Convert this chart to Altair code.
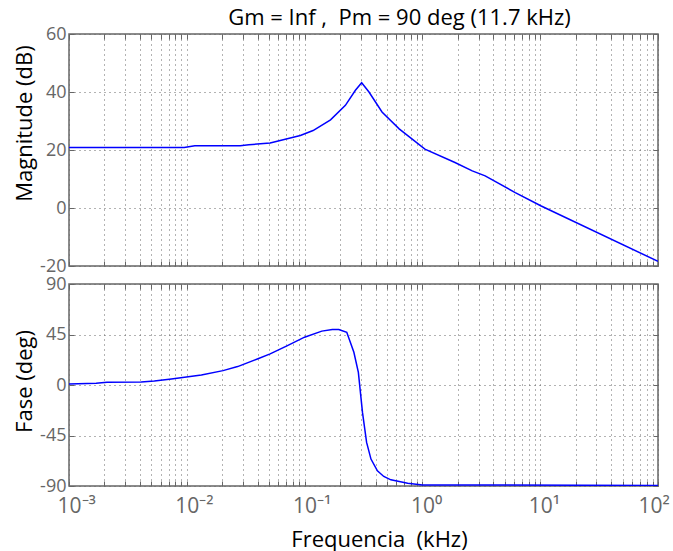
import altair as alt
import pandas as pd

# Magnitude curve (kHz, dB)
freq_mag = [0.001, 0.0095, 0.0117, 0.0284, 0.0336, 0.051, 0.0658, 0.092, 0.118,
            0.166, 0.222, 0.27, 0.305, 0.352, 0.454, 0.635, 1.05, 1.89, 2.65,
            3.41, 6.14, 10.2, 100.0]
mag_db = [20.9, 20.9, 21.5, 21.5, 21.8, 22.4, 23.5, 25.0, 26.7,
          30.4, 35.4, 40.6, 43.2, 40.0, 33.1, 27.3, 20.3, 15.7, 12.8,
          11.1, 5.3, 0.7, -18.4]

# Phase curve (kHz, deg)
freq_ph = [0.001, 0.0017, 0.0021, 0.0041, 0.0053, 0.0074, 0.0133, 0.0203, 0.027,
           0.0397, 0.051, 0.0715, 0.0999, 0.14, 0.172, 0.195, 0.228, 0.262,
           0.286, 0.31, 0.336, 0.366, 0.415, 0.47, 0.54, 0.75, 1.0, 100.0]
phase_deg = [0.9, 1.5, 2.4, 2.7, 3.6, 5.4, 8.9, 12.8, 16.4,
             23.2, 27.7, 35.1, 42.6, 48.0, 49.5, 49.5, 47.0, 29.2,
             11.3, -24.4, -51.2, -66.0, -76.5, -81.5, -84.5, -87.5, -89.0, -89.5]

mag_ticks = [-20, 0, 20, 40, 60]
phase_ticks = [-90, -45, 0, 45, 90]
decades = [0.001, 0.01, 0.1, 1, 10, 100]
decade_labels = ["10⁻³", "10⁻²", "10⁻¹", "10⁰", "10¹", "10²"]
title_text = "Gm = Inf ,\u00a0 Pm = 90 deg (11.7 kHz)"
x_title = "Frequencia\u00a0 (kHz)"

grid_vals = [k * d for d in decades[:-1] for k in range(1, 10)] + [decades[-1]]

label_expr = " : ".join(
    f"datum.value == {v} ? '{t}'" for v, t in zip(decades, decade_labels)
) + " : ''"

FONT = "Open Sans"
LINE = "#0000ff"
GRAY = "#666666"
GRID = "#666666"
DASH = [1, 4]

mag_df = pd.DataFrame({"f": freq_mag, "v": mag_db})
ph_df = pd.DataFrame({"f": freq_ph, "v": phase_deg})

xscale = alt.Scale(type="log", domain=[0.001, 100], nice=False)


def yaxis(vals, title, ty):
    return alt.Axis(values=vals, title=title, ticks=False, domain=False,
                    grid=True, gridDash=DASH, gridColor=GRID, gridOpacity=1,
                    labelExpr="toString(datum.value)",
                    labelPadding=3, titlePadding=1, minExtent=32, maxExtent=32,
                    labelFontSize=18, labelColor=GRAY, titleFontSize=22,
                    titleColor="black", titleFontWeight="normal",
                    labelFont=FONT, titleFont=FONT, titleY=ty)


def tick_axis(vals, orient):
    return alt.Axis(values=vals, orient=orient, offset=-5, tickSize=5,
                    tickColor=GRAY, tickWidth=1, labels=False, domain=False,
                    grid=False, title=None, minExtent=0, maxExtent=0)


def tick_layers(df, yscale, yvals):
    layers = []
    for xo, yo in (("bottom", "left"), ("top", "right")):
        layers.append(
            alt.Chart(df).mark_line(opacity=0).encode(
                x=alt.X("f:Q", scale=xscale, axis=tick_axis(grid_vals, xo)),
                y=alt.Y("v:Q", scale=yscale, axis=tick_axis(yvals, yo)),
            )
        )
    return layers


mag_scale = alt.Scale(domain=[-20, 60], nice=False)
ph_scale = alt.Scale(domain=[-90, 90], nice=False)

top_line = alt.Chart(mag_df).mark_line(color=LINE, strokeWidth=1.5, clip=True).encode(
    x=alt.X("f:Q", scale=xscale,
            axis=alt.Axis(values=grid_vals, labels=False, ticks=False, domain=False,
                          title=None, grid=True, gridDash=DASH, gridColor=GRID,
                          gridOpacity=1, minExtent=0, maxExtent=0)),
    y=alt.Y("v:Q", scale=mag_scale, axis=yaxis(mag_ticks, "Magnitude (dB)", 89)),
)
top = alt.layer(top_line, *tick_layers(mag_df, mag_scale, mag_ticks)).resolve_axis(
    x="independent", y="independent"
).properties(width=589, height=232,
             title=alt.TitleParams(title_text, fontSize=22, font=FONT,
                                   fontWeight="normal", color="black",
                                   anchor="middle", dx=36, offset=-5, frame="group"))

bottom_line = alt.Chart(ph_df).mark_line(color=LINE, strokeWidth=1.5, clip=True).encode(
    x=alt.X("f:Q", scale=xscale,
            axis=alt.Axis(values=grid_vals, labelExpr=label_expr, ticks=False,
                          domain=False, title=x_title,
                          grid=True, gridDash=DASH, gridColor=GRID,
                          gridOpacity=1, labelFontSize=21, labelColor=GRAY,
                          labelFont=FONT, labelPadding=9, labelOverlap=False,
                          labelAlign="left",
                          labelOffset={"condition": {"test": "datum.value == 100",
                                                     "value": -20},
                                       "value": -12},
                          labelBound=False,
                          titleFontSize=22, titleFont=FONT, titleColor="black",
                          titleFontWeight="normal", titlePadding=13, titleX=310)),
    y=alt.Y("v:Q", scale=ph_scale, axis=yaxis(phase_ticks, "Fase (deg)", 97)),
)
bottom = alt.layer(bottom_line, *tick_layers(ph_df, ph_scale, phase_ticks)).resolve_axis(
    x="independent", y="independent"
).properties(width=589, height=202)

chart = alt.vconcat(top, bottom, spacing=18, bounds="flush").properties(
    padding={"left": 12, "top": 6, "right": 0, "bottom": 0},
    background="white",
).configure_view(stroke=GRAY, strokeWidth=1.5)

chart.save("out.html", embed_options={"renderer": "svg", "actions": False})
